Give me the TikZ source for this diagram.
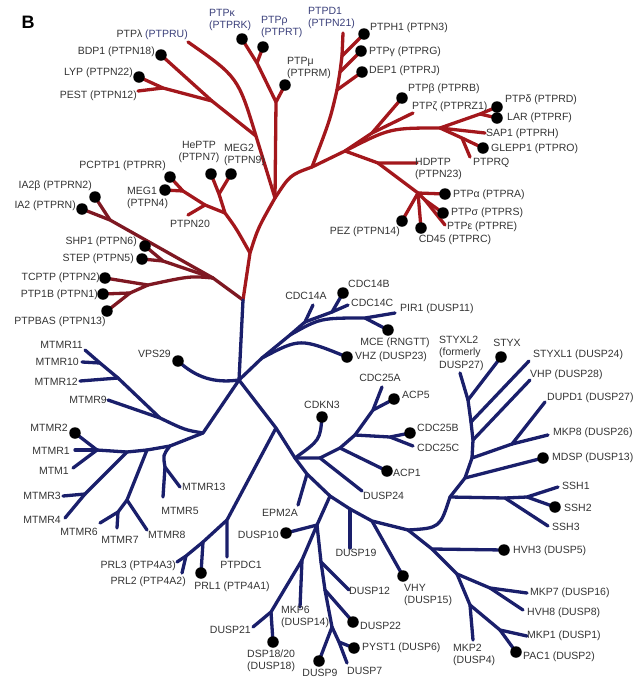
\documentclass[tikz,border=0pt]{standalone}
\usepackage{fontspec}
\setmainfont{Liberation Sans}
\definecolor{tred}{HTML}{A3171C}
\definecolor{tmar}{HTML}{7E1822}
\definecolor{tblue}{HTML}{1A1F6B}
\definecolor{tgray}{HTML}{333333}
\definecolor{tlblue}{HTML}{3A3F7A}
\begin{document}
\begin{tikzpicture}[x=1pt,y=-1pt,
  rl/.style={draw=tred,line width=3.3pt,line cap=round,line join=round},
  ml/.style={draw=tmar,line width=3.3pt,line cap=round,line join=round},
  bl/.style={draw=tblue,line width=3.3pt,line cap=round,line join=round},
  dot/.style={circle,fill=black,inner sep=0pt,minimum size=11.5pt},
  lab/.style={font=\fontsize{10.5}{12.5}\selectfont,text=tgray,inner sep=0pt},
  blab/.style={lab,text=tlblue}]
\useasboundingbox (0,0) rectangle (635,678);
\node[font=\fontsize{18}{20}\selectfont\bfseries,inner sep=0pt] (B) at (28,22) {B};
% ---------------- red coordinates
\coordinate (R0) at (243,300);
\coordinate (JL) at (213,278);
\coordinate (Jia) at (110,220);
\coordinate (IA2) at (82,209);
\coordinate (IA2b) at (95,197);
\coordinate (Jsh) at (163,261);
\coordinate (SHP1) at (145,246);
\coordinate (STEP) at (142,259);
\coordinate (Jtc) at (148,285);
\coordinate (TCPTP) at (105,278);
\coordinate (Jpb) at (130,293);
\coordinate (PTP1B) at (103,294);
\coordinate (PTPBAS) at (107,311);
\coordinate (J1) at (250,253);
\coordinate (J2) at (275,198);
\coordinate (Jmeg) at (225,213);
\coordinate (Jhe) at (219,194);
\coordinate (HePTP) at (211,174);
\coordinate (MEG2) at (231,174);
\coordinate (Jn20) at (205,205);
\coordinate (PTPN20) at (188,215);
\coordinate (Jpc) at (183,191);
\coordinate (PCPTP1) at (170,177);
\coordinate (MEG1) at (165,190);
\coordinate (Jlam) at (256,136);
\coordinate (PTPl) at (188,42);
\coordinate (Jbdp) at (212,101);
\coordinate (BDP1) at (161,55);
\coordinate (Jlyp) at (163,88);
\coordinate (LYP) at (139,77);
\coordinate (PEST) at (138,91);
\coordinate (Jmu) at (276,102);
\coordinate (PTPmu) at (285,85);
\coordinate (Jk) at (257,63);
\coordinate (PTPk) at (242,39);
\coordinate (PTPr) at (263,47);
\coordinate (J3) at (312,167);
\coordinate (Jdep) at (337,90);
\coordinate (DEP1) at (362,72);
\coordinate (Jg) at (340,72);
\coordinate (PTPg) at (361,51);
\coordinate (Jh1) at (342,56);
\coordinate (PTPH1) at (364,34);
\coordinate (PTPD1) at (343,33);
\coordinate (J4) at (345,151);
\coordinate (Jbeta) at (372,133);
\coordinate (PTPb) at (402,98);
\coordinate (PTPz) at (413,113);
\coordinate (Jd) at (440,128);
\coordinate (Jdl) at (480,114);
\coordinate (PTPd) at (497,107);
\coordinate (LAR) at (497,118);
\coordinate (SAP1) at (485,133);
\coordinate (Jgl) at (462,138);
\coordinate (GLEPP1) at (483,148);
\coordinate (PTPRQ) at (470,157);
\coordinate (Jhd) at (378,163);
\coordinate (HDPTP) at (417,163);
\coordinate (Ja) at (418,193);
\coordinate (PTPa) at (445,194);
\coordinate (PEZ) at (402,221);
\coordinate (CD45) at (421,228);
\coordinate (Js) at (425,200);
\coordinate (PTPs) at (443,213);
\coordinate (PTPe) at (445,225);
% ---------------- red branches
\draw[ml] (R0) -- (JL);
\draw[ml] (JL) -- (Jia) -- (IA2);
\draw[ml] (Jia) -- (IA2b);
\draw[ml] (JL) -- (Jsh) -- (SHP1);
\draw[ml] (Jsh) -- (STEP);
\draw[ml] (JL) .. controls (190,276) .. (Jtc) -- (TCPTP);
\draw[ml] (Jtc) -- (Jpb) -- (PTP1B);
\draw[ml] (Jpb) -- (PTPBAS);
\draw[rl] (R0) -- (J1) .. controls (258,228) .. (J2);
\draw[rl] (J1) .. controls (236,228) .. (Jmeg) -- (Jhe) -- (HePTP);
\draw[rl] (Jhe) -- (MEG2);
\draw[rl] (Jmeg) -- (Jn20) -- (PTPN20);
\draw[rl] (Jn20) -- (Jpc) -- (PCPTP1);
\draw[rl] (Jpc) -- (MEG1);
\draw[rl] (J2) -- (Jlam) .. controls (238,77) .. (PTPl);
\draw[rl] (Jlam) -- (Jbdp) -- (BDP1);
\draw[rl] (Jbdp) -- (Jlyp) -- (LYP);
\draw[rl] (Jlyp) -- (PEST);
\draw[rl] (J2) -- (Jmu) -- (PTPmu);
\draw[rl] (Jmu) -- (Jk) -- (PTPk);
\draw[rl] (Jk) -- (PTPr);
\draw[rl] (J2) .. controls (290,175) .. (J3);
\draw[rl] (J3) .. controls (330,120) .. (Jdep) -- (DEP1);
\draw[rl] (Jdep) -- (Jg) -- (PTPg);
\draw[rl] (Jg) -- (Jh1) -- (PTPH1);
\draw[rl] (Jh1) -- (PTPD1);
\draw[rl] (J3) -- (J4) -- (Jbeta) -- (PTPb);
\draw[rl] (Jbeta) -- (PTPz);
\draw[rl] (J4) .. controls (390,128) .. (Jd) -- (SAP1);
\draw[rl] (Jd) -- (Jdl) -- (PTPd);
\draw[rl] (Jdl) -- (LAR);
\draw[rl] (Jd) -- (Jgl) -- (GLEPP1);
\draw[rl] (Jgl) -- (PTPRQ);
\draw[rl] (J4) -- (Jhd) -- (HDPTP);
\draw[rl] (Jhd) -- (Ja) -- (PTPa);
\draw[rl] (Ja) -- (PEZ);
\draw[rl] (Ja) -- (CD45);
\draw[rl] (Ja) -- (Js) -- (PTPs);
\draw[rl] (Js) -- (PTPe);
% ---------------- blue coordinates
\coordinate (B0) at (239,380);
\coordinate (VPS29) at (178,361);
\coordinate (Jc) at (262,358);
\coordinate (VHZ) at (347,357);
\coordinate (Jc2) at (290,335);
\coordinate (Jc14) at (305,322);
\coordinate (CDC14A) at (313,305);
\coordinate (Jbc) at (332,312);
\coordinate (CDC14B) at (343,293);
\coordinate (CDC14C) at (348,305);
\coordinate (Jpir) at (365,318);
\coordinate (PIR1) at (395,313);
\coordinate (MCE) at (388,330);
\coordinate (Jm) at (203,433);
\coordinate (Jm9) at (160,418);
\coordinate (MTMR9) at (108,400);
\coordinate (Jm12) at (118,378);
\coordinate (MTMR12) at (80,381);
\coordinate (Jm11) at (100,363);
\coordinate (MTMR11) at (85,350);
\coordinate (MTMR10) at (82,362);
\coordinate (Jm13) at (170,446);
\coordinate (Jm5) at (165,467);
\coordinate (MTMR13) at (180,487);
\coordinate (MTMR5) at (163,497);
\coordinate (Jm678) at (147,450);
\coordinate (J678) at (127,500);
\coordinate (MTMR8) at (147,530);
\coordinate (J67) at (118,512);
\coordinate (MTMR6) at (100,523);
\coordinate (MTMR7) at (117,528);
\coordinate (Jm34) at (127,452);
\coordinate (J34) at (85,494);
\coordinate (MTMR3) at (63,496);
\coordinate (MTMR4) at (65,518);
\coordinate (Jm21) at (97,450);
\coordinate (MTMR2) at (75,433);
\coordinate (MTMR1) at (75,450);
\coordinate (MTM1) at (73,468);
\coordinate (Jprl) at (276,428);
\coordinate (Jpt) at (227,520);
\coordinate (PTPDC1) at (227,557);
\coordinate (Jp1) at (203,542);
\coordinate (PRL1) at (201,573);
\coordinate (Jp23) at (186,556);
\coordinate (PRL3) at (177,562);
\coordinate (PRL2) at (182,573);
\coordinate (Jcd) at (295,458);
\coordinate (CDKN3) at (322,417);
\coordinate (Jd24) at (320,458);
\coordinate (DUSP24) at (362,491);
\coordinate (Ja1) at (340,448);
\coordinate (ACP1) at (387,471);
\coordinate (J25) at (355,435);
\coordinate (Jbc25) at (390,437);
\coordinate (CDC25B) at (410,433);
\coordinate (CDC25C) at (413,446);
\coordinate (J25a) at (373,410);
\coordinate (CDC25A) at (382,387);
\coordinate (ACP5) at (394,399);
\coordinate (Jep) at (307,474);
\coordinate (EPM2A) at (298,505);
\coordinate (Jd10t) at (330,496);
\coordinate (Jd10) at (317,525);
\coordinate (DUSP10) at (286,533);
\coordinate (Jm6) at (302,560);
\coordinate (MKP6) at (300,607);
\coordinate (Jd21) at (271,612);
\coordinate (DUSP21) at (253,627);
\coordinate (DSP18) at (273,642);
\coordinate (Jd12) at (321,562);
\coordinate (DUSP12) at (349,590);
\coordinate (Jd22) at (325,590);
\coordinate (DUSP22) at (353,622);
\coordinate (Jd9) at (332,627);
\coordinate (DUSP9) at (319,661);
\coordinate (Jpy) at (339,642);
\coordinate (PYST1) at (354,648);
\coordinate (DUSP7) at (347,663);
\coordinate (J19) at (350,509);
\coordinate (DUSP19) at (350,548);
\coordinate (Jvhy) at (372,521);
\coordinate (VHY) at (403,576);
\coordinate (Jend) at (408,530);
\coordinate (Jh3) at (432,549);
\coordinate (HVH3) at (504,550);
\coordinate (Jm7) at (457,574);
\coordinate (Jm78) at (490,588);
\coordinate (MKP7) at (527,593);
\coordinate (HVH8) at (523,610);
\coordinate (Jmk2) at (470,605);
\coordinate (MKP2) at (473,640);
\coordinate (Jp) at (500,630);
\coordinate (MKP1) at (527,636);
\coordinate (PAC1) at (516,652);
\coordinate (Sssh) at (450,497);
\coordinate (Jssh) at (505,498);
\coordinate (SSH3) at (548,526);
\coordinate (Js12) at (527,497);
\coordinate (SSH1) at (558,487);
\coordinate (SSH2) at (555,507);
\coordinate (Smd) at (465,478);
\coordinate (MDSP) at (543,458);
\coordinate (Sm8) at (472,458);
\coordinate (Jdm) at (512,444);
\coordinate (DUPD1) at (545,402);
\coordinate (MKP8) at (548,435);
\coordinate (Svhp) at (473,440);
\coordinate (VHP) at (530,380);
\coordinate (Sl1) at (471,422);
\coordinate (STYXL1) at (529,361);
\coordinate (Sstyx) at (468,400);
\coordinate (STYX) at (501,357);
\coordinate (STYXL2) at (460,373);
% ---------------- blue branches
\draw[bl] (R0) -- (B0);
\draw[bl] (B0) to[bend left=25] (VPS29);
\draw[bl] (B0) -- (Jc) .. controls (300,338) .. (VHZ);
\draw[bl] (Jc) -- (Jc2) -- (Jc14) -- (CDC14A);
\draw[bl] (Jc14) -- (Jbc) -- (CDC14B);
\draw[bl] (Jbc) -- (CDC14C);
\draw[bl] (Jc2) .. controls (320,318) .. (Jpir) -- (PIR1);
\draw[bl] (Jpir) -- (MCE);
\draw[bl] (B0) -- (Jm) .. controls (185,430) .. (Jm9) -- (MTMR9);
\draw[bl] (Jm9) -- (Jm12) -- (MTMR12);
\draw[bl] (Jm12) -- (Jm11) -- (MTMR11);
\draw[bl] (Jm11) -- (MTMR10);
\draw[bl] (Jm) -- (Jm13) .. controls (163,455) .. (Jm5) -- (MTMR13);
\draw[bl] (Jm5) -- (MTMR5);
\draw[bl] (Jm13) -- (Jm678) -- (J678) -- (MTMR8);
\draw[bl] (J678) -- (J67) -- (MTMR6);
\draw[bl] (J67) -- (MTMR7);
\draw[bl] (Jm678) -- (Jm34) -- (J34) -- (MTMR3);
\draw[bl] (J34) -- (MTMR4);
\draw[bl] (Jm34) -- (Jm21) -- (MTMR2);
\draw[bl] (Jm21) -- (MTMR1);
\draw[bl] (Jm21) -- (MTM1);
\draw[bl] (B0) -- (Jprl) -- (Jcd) -- (Jep) -- (Jd10t) -- (J19) -- (Jvhy) -- (Jend);
\draw[bl] (Jprl) -- (Jpt) -- (PTPDC1);
\draw[bl] (Jpt) -- (Jp1) -- (PRL1);
\draw[bl] (Jp1) -- (Jp23) -- (PRL3);
\draw[bl] (Jp23) -- (PRL2);
\draw[bl] (Jcd) .. controls (320,440) .. (CDKN3);
\draw[bl] (Jcd) -- (Jd24) -- (DUSP24);
\draw[bl] (Jd24) -- (Ja1) -- (ACP1);
\draw[bl] (Ja1) -- (J25) -- (Jbc25) -- (CDC25B);
\draw[bl] (Jbc25) -- (CDC25C);
\draw[bl] (J25) -- (J25a) -- (CDC25A);
\draw[bl] (J25a) -- (ACP5);
\draw[bl] (Jep) -- (EPM2A);
\draw[bl] (Jd10t) -- (Jd10) -- (DUSP10);
\draw[bl] (Jd10) -- (Jm6) -- (MKP6);
\draw[bl] (Jm6) -- (Jd21) -- (DUSP21);
\draw[bl] (Jd21) -- (DSP18);
\draw[bl] (Jd10) -- (Jd12) -- (DUSP12);
\draw[bl] (Jd12) -- (Jd22) -- (DUSP22);
\draw[bl] (Jd22) -- (Jd9) -- (DUSP9);
\draw[bl] (Jd9) -- (Jpy) -- (PYST1);
\draw[bl] (Jpy) -- (DUSP7);
\draw[bl] (J19) -- (DUSP19);
\draw[bl] (Jvhy) -- (VHY);
\draw[bl] (Jend) -- (Jh3) -- (HVH3);
\draw[bl] (Jh3) -- (Jm7) -- (Jm78) -- (MKP7);
\draw[bl] (Jm78) -- (HVH8);
\draw[bl] (Jm7) -- (Jmk2) -- (MKP2);
\draw[bl] (Jmk2) -- (Jp) -- (MKP1);
\draw[bl] (Jp) -- (PAC1);
\draw[bl] (Jend) .. controls (440,528) .. (Sssh);
\draw[bl] (Sssh) -- (Jssh) -- (SSH3);
\draw[bl] (Jssh) -- (Js12) -- (SSH1);
\draw[bl] (Js12) -- (SSH2);
\draw[bl] (Sssh) -- (Smd) -- (MDSP);
\draw[bl] (Smd) -- (Sm8) -- (Jdm) -- (DUPD1);
\draw[bl] (Jdm) -- (MKP8);
\draw[bl] (Sm8) -- (Svhp) -- (VHP);
\draw[bl] (Svhp) -- (Sl1) -- (STYXL1);
\draw[bl] (Sl1) -- (Sstyx) -- (STYX);
\draw[bl] (Sstyx) -- (STYXL2);
% ---------------- dots
\foreach \p in {IA2,IA2b,SHP1,STEP,TCPTP,PTP1B,PTPBAS,HePTP,MEG2,PCPTP1,MEG1,BDP1,LYP,PTPmu,PTPk,PTPr,DEP1,PTPg,PTPH1,PTPb,PTPd,LAR,GLEPP1,PTPa,PEZ,CD45,PTPs,
  VPS29,VHZ,CDC14B,MCE,MTMR2,PRL1,CDKN3,ACP1,CDC25B,ACP5,DUSP10,DSP18,DUSP22,DUSP9,PYST1,VHY,HVH3,PAC1,SSH2,MDSP,STYX}
  \node[dot] (d\p) at (\p) {};
% ---------------- red labels
\node[blab,anchor=east] (lPTPl) at (188,35) {\textcolor{tgray}{PTPλ} (PTPRU)};
\node[lab,anchor=east] (lBDP1) at (155,52) {BDP1 (PTPN18)};
\node[lab,anchor=east] (lLYP) at (133,73) {LYP (PTPN22)};
\node[lab,anchor=east] (lPEST) at (137,96) {PEST (PTPN12)};
\node[blab,anchor=west,align=left] (lPTPk) at (209,20) {PTPκ\\(PTPRK)};
\node[blab,anchor=west,align=left] (lPTPr) at (261,27) {PTPρ\\(PTPRT)};
\node[lab,anchor=west,align=left] (lPTPmu) at (287,68) {PTPμ\\(PTPRM)};
\node[blab,anchor=west,align=left] (lPTPD1) at (308,18) {PTPD1\\(PTPN21)};
\node[lab,anchor=west] (lPTPH1) at (370,28) {PTPH1 (PTPN3)};
\node[lab,anchor=west] (lPTPg) at (369,52) {PTPγ (PTPRG)};
\node[lab,anchor=west] (lDEP1) at (369,71) {DEP1 (PTPRJ)};
\node[lab,anchor=west] (lPTPb) at (408,89) {PTPβ (PTPRB)};
\node[lab,anchor=west] (lPTPz) at (412,107) {PTPζ (PTPRZ1)};
\node[lab,anchor=west] (lPTPd) at (505,100) {PTPδ (PTPRD)};
\node[lab,anchor=west] (lLAR) at (507,118) {LAR (PTPRF)};
\node[lab,anchor=west] (lSAP1) at (486,134) {SAP1 (PTPRH)};
\node[lab,anchor=west] (lGLEPP1) at (491,149) {GLEPP1 (PTPRO)};
\node[lab,anchor=west] (lPTPRQ) at (473,163) {PTPRQ};
\node[lab,anchor=west,align=left] (lHDPTP) at (415,169) {HDPTP\\(PTPN23)};
\node[lab,anchor=west] (lPTPa) at (453,195) {PTPα (PTPRA)};
\node[lab,anchor=west] (lPTPs) at (451,213) {PTPσ (PTPRS)};
\node[lab,anchor=west] (lPTPe) at (447,227) {PTPε (PTPRE)};
\node[lab,anchor=east] (lPEZ) at (400,232) {PEZ (PTPN14)};
\node[lab] (lCD45) at (455,240) {CD45 (PTPRC)};
\node[lab,align=center] (lHePTP) at (199,152) {HePTP\\(PTPN7)};
\node[lab,anchor=west,align=left] (lMEG2) at (224,155) {MEG2\\(PTPN9)};
\node[lab,anchor=east] (lPCPTP1) at (166,166) {PCPTP1 (PTPRR)};
\node[lab,anchor=west,align=left] (lMEG1) at (127,198) {MEG1\\(PTPN4)};
\node[lab] (lPTPN20) at (190,224) {PTPN20};
\node[lab,anchor=east] (lIA2b) at (92,186) {IA2β (PTPRN2)};
\node[lab,anchor=east] (lIA2) at (76,206) {IA2 (PTPRN)};
\node[lab,anchor=east] (lSHP1) at (137,242) {SHP1 (PTPN6)};
\node[lab,anchor=east] (lSTEP) at (134,259) {STEP (PTPN5)};
\node[lab,anchor=east] (lTCPTP) at (100,278) {TCPTP (PTPN2)};
\node[lab,anchor=east] (lPTP1B) at (98,295) {PTP1B (PTPN1)};
\node[lab] (lPTPBAS) at (60,322) {PTPBAS (PTPN13)};
% ---------------- blue labels
\node[lab,anchor=east] (lVPS29) at (171,354) {VPS29};
\node[lab] (lCDC14A) at (306,296) {CDC14A};
\node[lab,anchor=west] (lCDC14B) at (348,284) {CDC14B};
\node[lab,anchor=west] (lCDC14C) at (351,303) {CDC14C};
\node[lab,anchor=west] (lPIR1) at (400,309) {PIR1 (DUSP11)};
\node[lab] (lMCE) at (395,343) {MCE (RNGTT)};
\node[lab,anchor=west] (lVHZ) at (355,357) {VHZ (DUSP23)};
\node[lab,anchor=east] (lMTMR11) at (83,345) {MTMR11};
\node[lab,anchor=east] (lMTMR10) at (79,362) {MTMR10};
\node[lab,anchor=east] (lMTMR12) at (78,382) {MTMR12};
\node[lab,anchor=east] (lMTMR9) at (107,400) {MTMR9};
\node[lab,anchor=east] (lMTMR2) at (68,428) {MTMR2};
\node[lab,anchor=east] (lMTMR1) at (70,451) {MTMR1};
\node[lab,anchor=east] (lMTM1) at (69,471) {MTM1};
\node[lab,anchor=east] (lMTMR3) at (61,496) {MTMR3};
\node[lab,anchor=east] (lMTMR4) at (61,520) {MTMR4};
\node[lab,anchor=east] (lMTMR6) at (98,532) {MTMR6};
\node[lab] (lMTMR7) at (120,540) {MTMR7};
\node[lab,anchor=west] (lMTMR8) at (148,535) {MTMR8};
\node[lab] (lMTMR5) at (180,511) {MTMR5};
\node[lab,anchor=west] (lMTMR13) at (182,487) {MTMR13};
\node[lab,anchor=east] (lPRL3) at (176,566) {PRL3 (PTP4A3)};
\node[lab,anchor=east] (lPRL2) at (186,582) {PRL2 (PTP4A2)};
\node[lab] (lPRL1) at (232,587) {PRL1 (PTP4A1)};
\node[lab] (lPTPDC1) at (241,565) {PTPDC1};
\node[lab] (lCDKN3) at (322,405) {CDKN3};
\node[lab] (lCDC25A) at (380,378) {CDC25A};
\node[lab,anchor=west] (lACP5) at (402,395) {ACP5};
\node[lab,anchor=west] (lCDC25B) at (417,428) {CDC25B};
\node[lab,anchor=west] (lCDC25C) at (417,448) {CDC25C};
\node[lab,anchor=west] (lACP1) at (393,473) {ACP1};
\node[lab,anchor=west] (lDUSP24) at (363,496) {DUSP24};
\node[lab] (lEPM2A) at (280,513) {EPM2A};
\node[lab,anchor=east] (lDUSP10) at (279,535) {DUSP10};
\node[lab] (lDUSP19) at (356,553) {DUSP19};
\node[lab,anchor=west,align=left] (lVHY) at (404,595) {VHY\\(DUSP15)};
\node[lab,anchor=west] (lDUSP12) at (349,591) {DUSP12};
\node[lab,anchor=west] (lDUSP22) at (360,626) {DUSP22};
\node[lab,anchor=west] (lPYST1) at (362,648) {PYST1 (DUSP6)};
\node[lab,anchor=west] (lDUSP7) at (347,671) {DUSP7};
\node[lab] (lDUSP9) at (320,673) {DUSP9};
\node[lab,anchor=west,align=left] (lDSP18) at (247,661) {DSP18/20\\(DUSP18)};
\node[lab,anchor=east] (lDUSP21) at (251,630) {DUSP21};
\node[lab,anchor=west,align=left] (lMKP6) at (281,617) {MKP6\\(DUSP14)};
\node[lab,anchor=west] (lHVH3) at (513,551) {HVH3 (DUSP5)};
\node[lab,anchor=west] (lMKP7) at (530,593) {MKP7 (DUSP16)};
\node[lab,anchor=west] (lHVH8) at (527,613) {HVH8 (DUSP8)};
\node[lab,anchor=west] (lMKP1) at (527,636) {MKP1 (DUSP1)};
\node[lab,anchor=west] (lPAC1) at (523,657) {PAC1 (DUSP2)};
\node[lab,anchor=west,align=left] (lMKP2) at (453,655) {MKP2\\(DUSP4)};
\node[lab,anchor=west] (lSSH1) at (562,486) {SSH1};
\node[lab,anchor=west] (lSSH2) at (564,508) {SSH2};
\node[lab,anchor=west] (lSSH3) at (552,527) {SSH3};
\node[lab,anchor=west] (lMDSP) at (552,458) {MDSP (DUSP13)};
\node[lab,anchor=west] (lMKP8) at (553,433) {MKP8 (DUSP26)};
\node[lab,anchor=west] (lDUPD1) at (547,398) {DUPD1 (DUSP27)};
\node[lab,anchor=west] (lVHP) at (530,375) {VHP (DUSP28)};
\node[lab,anchor=west] (lSTYXL1) at (533,355) {STYXL1 (DUSP24)};
\node[lab] (lSTYX) at (507,343) {STYX};
\node[lab,anchor=west,align=left] (lSTYXL2) at (439,353) {STYXL2\\(formerly\\DUSP27)};
\end{tikzpicture}
\end{document}
